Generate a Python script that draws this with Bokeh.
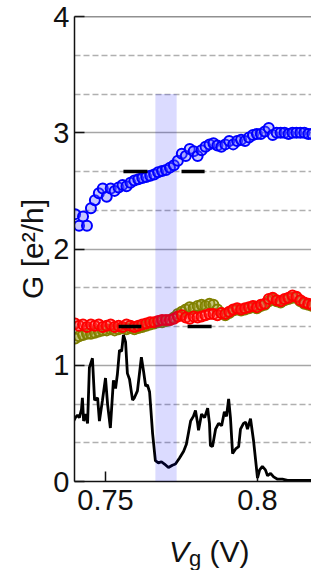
from bokeh.plotting import figure
from bokeh.models import Range1d, FixedTicker, Grid, BoxAnnotation, Span, Div
from bokeh.layouts import column
from bokeh.embed import file_html
from bokeh.resources import INLINE

# ---------------- data ----------------
Vg = [0.7400, 0.7413, 0.7426, 0.7439, 0.7452, 0.7465, 0.7478, 0.7491, 0.7504, 0.7517,
      0.7530, 0.7543, 0.7556, 0.7569, 0.7582, 0.7595, 0.7608, 0.7621, 0.7634, 0.7647,
      0.7660, 0.7673, 0.7686, 0.7699, 0.7712, 0.7725, 0.7738, 0.7751, 0.7764, 0.7777,
      0.7790, 0.7803, 0.7816, 0.7829, 0.7842, 0.7855, 0.7868, 0.7881, 0.7894, 0.7907,
      0.7920, 0.7933, 0.7946, 0.7959, 0.7972, 0.7985, 0.7998, 0.8011, 0.8024, 0.8037,
      0.8050, 0.8063, 0.8076, 0.8089, 0.8102, 0.8115, 0.8128, 0.8141, 0.8154, 0.8167,
      0.8180]

G_blue = [2.30, 2.20, 2.28, 2.20, 2.35, 2.42, 2.48, 2.52, 2.45, 2.52,
          2.50, 2.53, 2.55, 2.54, 2.57, 2.59, 2.60, 2.61, 2.62, 2.63,
          2.64, 2.66, 2.67, 2.68, 2.70, 2.72, 2.76, 2.82, 2.80, 2.86,
          2.84, 2.80, 2.85, 2.88, 2.90, 2.91, 2.89, 2.88, 2.90, 2.93,
          2.90, 2.93, 2.94, 2.93, 2.96, 2.98, 2.99, 2.99, 3.01, 3.04,
          2.98, 3.00, 3.00, 3.00, 2.99, 3.00, 3.00, 3.00, 3.00, 2.99,
          2.99]

G_red = [1.36, 1.34, 1.35, 1.33, 1.35, 1.34, 1.35, 1.33, 1.34, 1.35,
         1.33, 1.34, 1.33, 1.35, 1.34, 1.33, 1.34, 1.35, 1.36, 1.37,
         1.37, 1.38, 1.39, 1.39, 1.39, 1.40, 1.42, 1.43, 1.41, 1.40,
         1.42, 1.41, 1.42, 1.43, 1.44, 1.44, 1.43, 1.45, 1.44, 1.46,
         1.48, 1.49, 1.48, 1.49, 1.50, 1.51, 1.50, 1.52, 1.53, 1.57,
         1.58, 1.56, 1.55, 1.57, 1.58, 1.60, 1.59, 1.56, 1.54, 1.53,
         1.52]

G_olive = [1.23, 1.25, 1.26, 1.27, 1.27, 1.28, 1.29, 1.30, 1.30, 1.31,
           1.30, 1.31, 1.32, 1.31, 1.32, 1.31, 1.32, 1.33, 1.34, 1.35,
           1.36, 1.37, 1.37, 1.38, 1.39, 1.41, 1.44, 1.46, 1.48, 1.50,
           1.49, 1.51, 1.52, 1.51, 1.53, 1.52, 1.48, 1.45, 1.43, 1.45,
           1.47, 1.48, 1.47, 1.48, 1.49, 1.50, 1.49, 1.51, 1.52, 1.55,
           1.57, 1.55, 1.54, 1.56, 1.57, 1.58, 1.58, 1.55, 1.53, 1.52,
           1.51]

Vg_black = [0.7395, 0.7401, 0.7408, 0.7414, 0.7421, 0.7424, 0.7428, 0.7434, 0.7441, 0.7447,
            0.7457, 0.7464, 0.7474, 0.7480, 0.7490, 0.7500, 0.7507, 0.7516, 0.7526, 0.7533,
            0.7539, 0.7546, 0.7553, 0.7559, 0.7566, 0.7572, 0.7579, 0.7589, 0.7595, 0.7605,
            0.7618, 0.7625, 0.7632, 0.7638, 0.7645, 0.7655, 0.7664, 0.7674, 0.7684, 0.7694,
            0.7707, 0.7720, 0.7730, 0.7743, 0.7757, 0.7766, 0.7773, 0.7780, 0.7789, 0.7796,
            0.7803, 0.7806, 0.7816, 0.7826, 0.7836, 0.7842, 0.7845, 0.7852, 0.7862, 0.7872,
            0.7882, 0.7891, 0.7898, 0.7905, 0.7911, 0.7918, 0.7928, 0.7938, 0.7944, 0.7954,
            0.7961, 0.7967, 0.7977, 0.7987, 0.8000, 0.8007, 0.8016, 0.8026, 0.8033, 0.8043,
            0.8053, 0.8066, 0.8082, 0.8099, 0.8125, 0.8158, 0.8181]
G_black = [0.52, 0.55, 0.57, 0.55, 0.62, 0.72, 0.52, 0.58, 0.50, 0.98,
           1.06, 0.70, 0.72, 0.52, 0.70, 0.89, 0.66, 0.46, 0.87, 0.80,
           0.92, 1.13, 1.12, 1.26, 1.20, 0.93, 0.88, 0.70, 0.72, 0.78,
           1.07, 0.95, 0.82, 0.83, 0.77, 0.41, 0.18, 0.16, 0.17, 0.15,
           0.12, 0.14, 0.15, 0.20, 0.26, 0.32, 0.42, 0.52, 0.56, 0.61,
           0.50, 0.44, 0.58, 0.55, 0.63, 0.50, 0.31, 0.30, 0.45, 0.50,
           0.48, 0.60, 0.56, 0.71, 0.55, 0.24, 0.28, 0.30, 0.45, 0.50,
           0.51, 0.45, 0.54, 0.35, 0.03, 0.10, 0.13, 0.10, 0.05, 0.07,
           0.04, 0.02, 0.02, 0.01, 0.01, 0.01, 0.01]

# plateau markers (black bars)
bar_x0 = [0.7559, 0.7750, 0.7543, 0.7770]
bar_x1 = [0.7638, 0.7826, 0.7618, 0.7849]
bar_G = [2.667, 2.667, 1.333, 1.333]

# shaded window
band_left, band_right, band_top = 0.7664, 0.7734, 3.333

y_major = [0, 1, 2, 3, 4]
y_minor = [1/3, 2/3, 4/3, 5/3, 7/3, 8/3, 10/3, 11/3]
x_ticks = [0.75, 0.8]
x_tick_labels = {0.75: "0.75", 0.8: "0.8"}
y_label = "G [e²/h]"

FONT = "Liberation Sans"

# ---------------- figure ----------------
p = figure(width=311, height=530, output_backend="svg", toolbar_location=None,
           x_range=Range1d(0.7398, 0.81776), y_range=Range1d(0, 4),
           min_border_left=74, min_border_right=0, min_border_top=16,
           min_border_bottom=49)
p.outline_line_color = None
p.background_fill_color = "white"
p.border_fill_color = "white"

p.xgrid.visible = False
p.ygrid[0].ticker = FixedTicker(ticks=[1, 2, 3])
p.ygrid[0].grid_line_color = "#a6a6a6"
p.ygrid[0].grid_line_width = 1.3
p.add_layout(Grid(dimension=1, ticker=FixedTicker(ticks=y_minor),
                  grid_line_color="#b0b0b0", grid_line_width=1.3,
                  grid_line_dash="6 3"))

for ax in (p.xaxis[0], p.yaxis[0]):
    ax.axis_line_color = "#111111"
    ax.axis_line_width = 1.5
    ax.major_tick_line_color = "#111111"
    ax.major_tick_line_width = 1.5
    ax.major_tick_in = 10
    ax.major_tick_out = 0
    ax.minor_tick_line_color = None
    ax.major_label_text_font = FONT
    ax.major_label_text_font_size = "29px"
    ax.major_label_text_color = "#111111"

p.yaxis[0].ticker = FixedTicker(ticks=y_major)
p.yaxis[0].major_label_standoff = 5
p.yaxis[0].axis_label = y_label
p.yaxis[0].axis_label_text_font = FONT
p.yaxis[0].axis_label_text_font_size = "30px"
p.yaxis[0].axis_label_text_font_style = "normal"
p.yaxis[0].axis_label_text_color = "#111111"
p.yaxis[0].axis_label_standoff = 1
p.xaxis[0].ticker = FixedTicker(ticks=x_ticks)
p.xaxis[0].major_label_overrides = x_tick_labels
p.xaxis[0].major_label_standoff = 8

# top frame line
p.add_layout(Span(location=4, dimension="width", line_color="#222222", line_width=1.5))

# data
p.scatter(Vg, G_blue, marker="circle", size=10, line_color="#0000ff", line_width=2,
          fill_color="#6060ff", fill_alpha=0.35)
p.scatter(Vg, G_olive, marker="circle", size=10, line_color="#808000", line_width=2,
          fill_color="#9a9a20", fill_alpha=0.35)
p.scatter(Vg, G_red, marker="circle", size=10, line_color="#ff0000", line_width=2,
          fill_color="#ff3030", fill_alpha=0.35)
p.line(Vg_black, G_black, line_color="black", line_width=2.8)
p.segment(x0=bar_x0, y0=bar_G, x1=bar_x1, y1=bar_G, line_color="black", line_width=3.5)

p.add_layout(BoxAnnotation(left=band_left, right=band_right, bottom=0, top=band_top,
                           fill_color="#0000ff", fill_alpha=0.14, line_color=None))

# x-axis title (italic V, subscript g)
xlab = Div(
    text=('<div style="font-family:\'Liberation Sans\';font-size:30px;line-height:34px;'
          'color:#111111;padding-left:164px;white-space:nowrap;">'
          '<i>V</i><sub style="font-size:22px;line-height:0;vertical-align:-4px;">g</sub>'
          '&nbsp;(V)</div>'),
    width=311, height=40)

layout = column(p, xlab, spacing=0)
open("out.html", "w").write(file_html(layout, INLINE))
